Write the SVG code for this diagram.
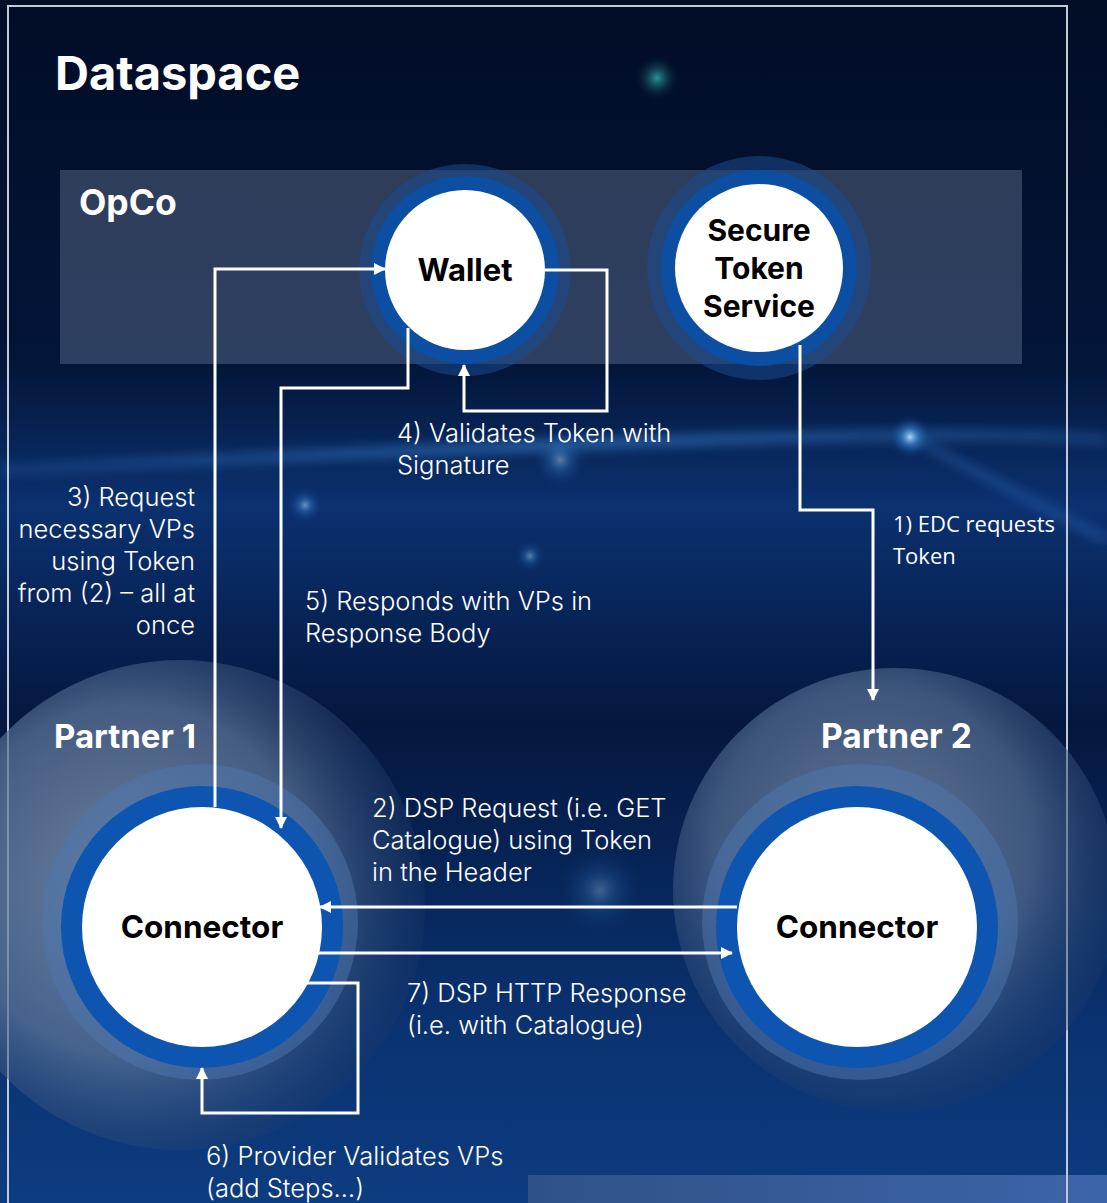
<svg xmlns="http://www.w3.org/2000/svg" width="1107" height="1203" viewBox="0 0 1107 1203">
<defs>
<style>
.h{font-family:Inter,"Liberation Sans",sans-serif;font-weight:700;fill:#ffffff}
.n{font-family:Inter,"Liberation Sans",sans-serif;font-weight:700;fill:#000000}
.l{font-family:Inter,"Open Sans","Liberation Sans",sans-serif;font-weight:300;font-size:25.5px;fill:#ffffff}
.l2{font-family:"Open Sans","Noto Sans",sans-serif;font-weight:400;font-size:22px;fill:#ffffff}
.c{fill:none;stroke:#ffffff;stroke-width:3}
</style>
<linearGradient id="bg" x1="0" y1="0" x2="0" y2="1">
<stop offset="0" stop-color="#020d26"/>
<stop offset="0.3" stop-color="#031538"/>
<stop offset="0.42" stop-color="#0b3170"/>
<stop offset="0.6" stop-color="#04173f"/>
<stop offset="0.85" stop-color="#0a3270"/>
<stop offset="1" stop-color="#0d3c80"/>
</linearGradient>
<radialGradient id="glow1" cx="0.4" cy="0.45" r="0.6">
<stop offset="0" stop-color="#8d9fb6"/>
<stop offset="0.6" stop-color="#5a7397"/>
<stop offset="1" stop-color="#1d3a6a" stop-opacity="0.4"/>
</radialGradient>
<radialGradient id="glow2" cx="0.45" cy="0.4" r="0.6">
<stop offset="0" stop-color="#8193ad"/>
<stop offset="0.6" stop-color="#50698f"/>
<stop offset="1" stop-color="#1d3a6a" stop-opacity="0.4"/>
</radialGradient>
<radialGradient id="dot" cx="0.5" cy="0.5" r="0.5">
<stop offset="0" stop-color="#bfe6ff" stop-opacity="0.9"/>
<stop offset="0.4" stop-color="#3d8fe0" stop-opacity="0.5"/>
<stop offset="1" stop-color="#0b3170" stop-opacity="0"/>
</radialGradient>
<radialGradient id="tdot" cx="0.5" cy="0.5" r="0.5">
<stop offset="0" stop-color="#2fa3a3" stop-opacity="0.9"/>
<stop offset="1" stop-color="#02203a" stop-opacity="0"/>
</radialGradient>
<linearGradient id="streak" x1="0" y1="0" x2="1" y2="0">
<stop offset="0" stop-color="#3f8ee6" stop-opacity="0.2"/>
<stop offset="0.5" stop-color="#4aa0f5" stop-opacity="0.6"/>
<stop offset="1" stop-color="#3f8ee6" stop-opacity="0.3"/>
</linearGradient>
<linearGradient id="br" x1="0" y1="0" x2="1" y2="0">
<stop offset="0" stop-color="#2e5288"/>
<stop offset="1" stop-color="#3c64a8"/>
</linearGradient>
<filter id="blur" x="-50%" y="-50%" width="200%" height="200%"><feGaussianBlur stdDeviation="6"/></filter>
<marker id="ah" viewBox="0 0 12 12" refX="11" refY="6" markerWidth="12" markerHeight="12" markerUnits="userSpaceOnUse" orient="auto">
<path d="M0,0 L12,6 L0,12 Z" fill="#ffffff"/>
</marker>
</defs>

<g id="background">
<rect x="0" y="0" width="1107" height="1203" fill="url(#bg)"/>
<path d="M0,470 Q400,450 700,440 T1107,440" stroke="url(#streak)" stroke-width="9" fill="none" filter="url(#blur)"/>
<path d="M910,437 L1107,540" stroke="#3f8ee6" stroke-opacity="0.5" stroke-width="5" fill="none" filter="url(#blur)"/>
<circle cx="657" cy="78" r="22" fill="url(#tdot)"/>
<circle cx="910" cy="437" r="22" fill="url(#dot)"/>
<circle cx="305" cy="505" r="18" fill="url(#dot)" opacity="0.6"/>
<circle cx="560" cy="460" r="28" fill="url(#dot)" opacity="0.5"/>
<circle cx="530" cy="556" r="16" fill="url(#dot)" opacity="0.5"/>
<circle cx="600" cy="890" r="45" fill="url(#dot)" opacity="0.35"/>
<rect x="528" y="1175" width="579" height="28" fill="url(#br)"/>
</g>

<g id="dataspace">
<rect x="8" y="6" width="1059" height="1220" fill="none" stroke="#c3cad6" stroke-width="2"/>
<text class="h" x="55" y="90" font-size="47">Dataspace</text>
</g>

<g id="opco">
<rect x="60" y="170" width="962" height="194" fill="#8a9bb8" fill-opacity="0.32"/>
<text class="h" x="79" y="215" font-size="35.5">OpCo</text>
</g>

<g id="partner1">
<circle cx="180" cy="905" r="245" fill="url(#glow1)" opacity="0.75"/>
<circle cx="200" cy="922" r="158" fill="#4d76ad" opacity="0.5"/>
<text class="h" x="54" y="748" font-size="33">Partner 1</text>
</g>

<g id="partner2">
<circle cx="895" cy="890" r="222" fill="url(#glow2)" opacity="0.75"/>
<circle cx="860" cy="922" r="158" fill="#4d76ad" opacity="0.5"/>
<text class="h" x="821" y="748" font-size="33.5">Partner 2</text>
</g>

<g id="wallet">
<circle cx="465" cy="270" r="106" fill="#1c4a8f" fill-opacity="0.55"/>
<circle cx="465" cy="270" r="94" fill="#0b4ea2"/>
<circle cx="465" cy="270" r="80" fill="#ffffff"/>
<text class="n" x="465" y="281" font-size="31" text-anchor="middle">Wallet</text>
</g>

<g id="sts">
<circle cx="759" cy="268" r="112" fill="#1c4a8f" fill-opacity="0.55"/>
<circle cx="759" cy="268" r="98" fill="#0b4ea2"/>
<circle cx="759" cy="268" r="84" fill="#ffffff"/>
<text class="n" x="759" y="241" font-size="30" text-anchor="middle">Secure</text>
<text class="n" x="759" y="279" font-size="30" text-anchor="middle">Token</text>
<text class="n" x="759" y="317" font-size="30" text-anchor="middle">Service</text>
</g>

<g id="connector1">
<circle cx="202" cy="927" r="141" fill="#0d55b0"/>
<circle cx="202" cy="927" r="120" fill="#ffffff"/>
<text class="n" x="202" y="938" font-size="31.5" text-anchor="middle">Connector</text>
</g>

<g id="connector2">
<circle cx="857" cy="927" r="141" fill="#0d55b0"/>
<circle cx="857" cy="927" r="120" fill="#ffffff"/>
<text class="n" x="857" y="938" font-size="31.5" text-anchor="middle">Connector</text>
</g>

<g id="connectors">
<path class="c" d="M800,345 V510 H873 V700" marker-end="url(#ah)"/>
<path class="c" d="M215,807 V269 H385" marker-end="url(#ah)"/>
<path class="c" d="M545,270 H607 V411 H464 V365" marker-end="url(#ah)"/>
<path class="c" d="M408,328 V388 H281 V828" marker-end="url(#ah)"/>
<path class="c" d="M737,907 H320" marker-end="url(#ah)"/>
<path class="c" d="M316,953 H732" marker-end="url(#ah)"/>
<path class="c" d="M305,983 H358 V1113 H202 V1068" marker-end="url(#ah)"/>
</g>

<g id="labels">
<text class="l" x="397" y="442">4) Validates Token with</text>
<text class="l" x="397" y="474">Signature</text>
<text class="l" x="195" y="506" text-anchor="end">3) Request</text>
<text class="l" x="195" y="538" text-anchor="end">necessary VPs</text>
<text class="l" x="195" y="570" text-anchor="end">using Token</text>
<text class="l" x="195" y="602" text-anchor="end">from (2) – all at</text>
<text class="l" x="195" y="634" text-anchor="end">once</text>
<text class="l2" x="893" y="532">1) EDC requests</text>
<text class="l2" x="893" y="564">Token</text>
<text class="l" x="305" y="610">5) Responds with VPs in</text>
<text class="l" x="305" y="642">Response Body</text>
<text class="l" x="372" y="817">2) DSP Request (i.e. GET</text>
<text class="l" x="372" y="849">Catalogue) using Token</text>
<text class="l" x="372" y="881">in the Header</text>
<text class="l" x="407" y="1002">7) DSP HTTP Response</text>
<text class="l" x="407" y="1034">(i.e. with Catalogue)</text>
<text class="l" x="206" y="1165">6) Provider Validates VPs</text>
<text class="l" x="206" y="1197">(add Steps…)</text>
</g>
</svg>
